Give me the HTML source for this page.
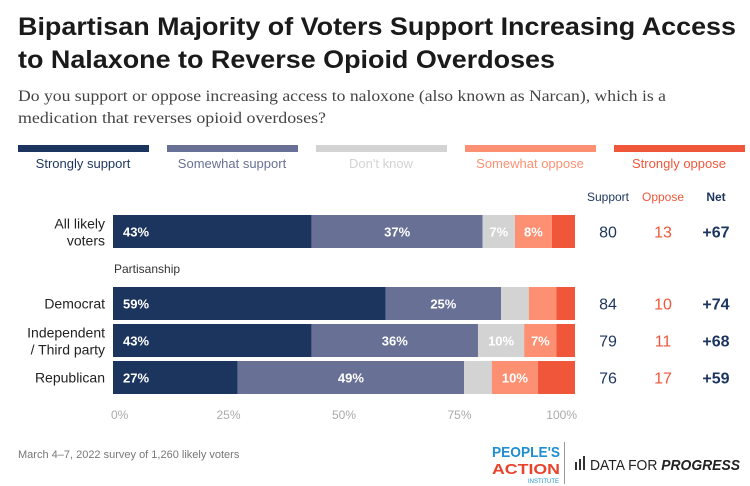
<!DOCTYPE html>
<html><head><meta charset="utf-8"><style>
body{margin:0;background:#fff;}
svg{display:block;font-family:"Liberation Sans",sans-serif;}
</style></head><body>
<svg id="chart" width="750" height="486" viewBox="0 0 750 486">
<text x="18" y="35" font-size="25" font-weight="bold" fill="#1a1a1a" textLength="718" lengthAdjust="spacingAndGlyphs">Bipartisan Majority of Voters Support Increasing Access</text>
<text x="18" y="68" font-size="25" font-weight="bold" fill="#1a1a1a" textLength="537" lengthAdjust="spacingAndGlyphs">to Nalaxone to Reverse Opioid Overdoses</text>
<text x="18" y="101" font-size="15.5" fill="#444" font-family="Liberation Serif,serif" textLength="648" lengthAdjust="spacingAndGlyphs">Do you support or oppose increasing access to naloxone (also known as Narcan), which is a</text>
<text x="18" y="123" font-size="15.5" fill="#444" font-family="Liberation Serif,serif" textLength="308" lengthAdjust="spacingAndGlyphs">medication that reverses opioid overdoses?</text>
<g id="legend"></g>
<text x="608" y="201" font-size="12" fill="#1c355e" text-anchor="middle">Support</text>
<text x="663" y="201" font-size="12" fill="#f0573a" text-anchor="middle">Oppose</text>
<text x="716" y="201" font-size="12" font-weight="bold" fill="#1c355e" text-anchor="middle">Net</text>
<text x="114" y="273" font-size="12" fill="#333">Partisanship</text>
<g id="bars"></g>
<g id="axis"></g>
<text x="18" y="458" font-size="11" fill="#777">March 4–7, 2022 survey of 1,260 likely voters</text>
<g>
<text x="492" y="457" font-size="15" font-weight="bold" fill="#1f8fd0" textLength="68" lengthAdjust="spacingAndGlyphs">PEOPLE'S</text>
<text x="492" y="474" font-size="15" font-weight="bold" fill="#e8432b" textLength="68" lengthAdjust="spacingAndGlyphs">ACTION</text>
<text x="528" y="483" font-size="6" fill="#1f8fd0">INSTITUTE</text>
<rect x="564" y="442" width="1" height="42" fill="#999"/>
</g>
<g>
<rect x="575" y="462" width="2" height="8" fill="#333"/><rect x="579" y="459" width="2" height="11" fill="#333"/><rect x="583" y="456" width="2" height="14" fill="#333"/>
<text x="590" y="470" font-size="15" fill="#222" textLength="150" lengthAdjust="spacingAndGlyphs">DATA FOR <tspan font-weight="bold" font-style="italic">PROGRESS</tspan></text>
</g>
</svg>
<script>
const categories=["All likely voters","Democrat","Independent / Third party","Republican"];
const strongSupport=[43,59,43,27];
const somewhatSupport=[37,25,36,49];
const dontKnow=[7,6,10,6];
const somewhatOppose=[8,6,7,10];
const strongOppose=[5,4,4,8];
const supportTotals=[80,84,79,76];
const opposeTotals=[13,10,11,17];
const netValues=["+67","+74","+68","+59"];
const legendLabels=["Strongly support","Somewhat support","Don't know","Somewhat oppose","Strongly oppose"];
const ticks=[0,25,50,75,100];
const colors=["#1c355e","#687195","#d3d3d3","#fd9072","#f0573a"];
const textColors=["#1c355e","#687195","#d3d3d3","#fd9072","#f0573a"];
const NS="http://www.w3.org/2000/svg";
const x0=113,x1=575;
const xs=v=>x0+(x1-x0)*v/100;
const rowY=[215,287,324,361],barH=33;
function mk(tag,attrs,parent){const e=document.createElementNS(NS,tag);for(const k in attrs)e.setAttribute(k,attrs[k]);parent.appendChild(e);return e;}
const lg=document.getElementById('legend');
legendLabels.forEach((l,i)=>{
  const lx=18+i*149;
  const r=mk('rect',{x:lx,y:145,width:131,height:7,fill:colors[i]},lg);
  
  
  const t=mk('text',{x:lx+65,y:168,'font-size':13,fill:textColors[i],'text-anchor':'middle'},lg);
  t.textContent=l;
  
  
});
const bg=document.getElementById('bars');
const series=[strongSupport,somewhatSupport,dontKnow,somewhatOppose,strongOppose];
categories.forEach((c,r)=>{
  let acc=0;const y=rowY[r];
  series.forEach((s,si)=>{
    const v=s[r];
    const rc=mk('rect',{x:xs(acc),y:y,width:xs(acc+v)-xs(acc),height:barH,fill:colors[si]},bg);
    
    
    const showLabel=(si===0)||(si===1)||(v>=7&&si<4);
    if(showLabel){
      const tx=si===0?xs(acc)+10:(xs(acc)+xs(acc+v))/2;
      const t=mk('text',{x:tx,y:y+barH/2+5,'font-size':13,'font-weight':'bold',fill:'#fff','text-anchor':si===0?'start':'middle'},bg);
      t.textContent=v+'%';
      
      
    }
    acc+=v;
  });
  const lines=r===0?["All likely","voters"]:r===2?["Independent","/ Third party"]:[c];
  lines.forEach((ln,li)=>{
    const cy=y+barH/2+5+(lines.length===2?(li===0?-8:9):0);
    const t=mk('text',{x:105,y:cy,'font-size':14,fill:'#222','text-anchor':'end'},bg);
    t.textContent=ln;
    
    
  });
  const cols=[[608,supportTotals[r],'#1c355e','normal'],[663,opposeTotals[r],'#f0573a','normal'],[716,netValues[r],'#1c355e','bold']];
  cols.forEach(([cx,v,f,w])=>{
    const t=mk('text',{x:cx,y:y+barH/2+6,'font-size':16,fill:f,'font-weight':w,'text-anchor':'middle'},bg);
    t.textContent=v;
    
    
  });
});
const ax=document.getElementById('axis');
ticks.forEach(tk=>{
  const anchor=tk===0?'start':tk===100?'end':'middle';
  const t=mk('text',{x:tk===0?xs(tk)-2:xs(tk)+(tk===100?2:0),y:419,'font-size':12,fill:'#aaa','text-anchor':anchor},ax);
  t.textContent=tk+'%';
  
  
});
</script>
</body></html>
